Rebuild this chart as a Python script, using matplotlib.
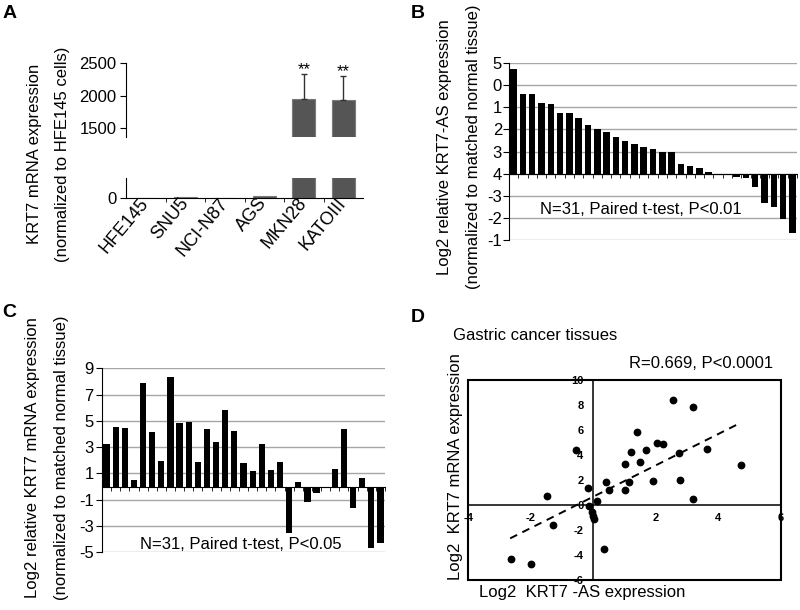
import numpy as np
import matplotlib
matplotlib.use('Agg')
import matplotlib.pyplot as plt
from matplotlib.patches import Rectangle
import matplotlib.transforms as mtransforms

plt.rcParams['font.family'] = ['Liberation Sans', 'DejaVu Sans']
plt.rcParams['axes.unicode_minus'] = False

# ---------------- data ----------------
# Panel A
cell_lines = ['HFE145', 'SNU5', 'NCI-N87', 'AGS', 'MKN28', 'KATOIII']
krt7_mrna = [1, 5, 3, 20, 1950, 1935]
krt7_err = [0, 0, 0, 0, 385, 365]
signif = ['', '', '', '', '**', '**']
a_upper_ticks = [1500, 2000, 2500]
a_lower_ticks = [0]

# Panel B
krt7as_log2 = [4.73, 3.62, 3.59, 3.17, 3.16, 2.74, 2.74, 2.53, 2.18, 2.01,
               1.88, 1.64, 1.48, 1.36, 1.19, 1.10, 0.97, 0.97, 0.45, 0.36,
               0.27, 0.08, -0.02, -0.06, -0.15, -0.20, -0.61, -1.32, -1.53,
               -2.04, -2.70]
b_ticks = [-3, -2, -1, 0, 1, 2, 3, 4, 5]
b_tick_labels = ['-1', '-2', '-3', '4', '3', '2', '1', '0', '5']

# Panel C
krt7_log2 = [3.22, 4.56, 4.46, 0.50, 7.86, 4.16, 1.97, 8.37, 4.87, 4.92,
             1.90, 4.36, 3.40, 5.83, 4.20, 1.82, 1.19, 3.27, 1.24, 1.85,
             -3.50, 0.33, -1.17, -0.49, 0.0, 1.35, 4.37, -1.60, 0.68,
             -4.68, -4.30]
c_ticks = [-5, -3, -1, 1, 3, 5, 7, 9]

# Panel D
scatter_x = [-2.64, -1.98, -1.48, -1.28, -0.56, -0.17, -0.14, -0.04, 0.00, 0.02,
             0.11, 0.33, 0.40, 0.51, 1.00, 1.03, 1.14, 1.20, 1.41, 1.51,
             1.68, 1.91, 2.03, 2.22, 2.54, 2.76, 2.78, 3.18, 3.20, 3.64, 4.74]
scatter_y = [-4.30, -4.70, 0.71, -1.62, 4.40, 1.38, -0.06, -0.54, -0.88, -1.14,
             0.30, -3.52, 1.87, 1.24, 3.27, 1.20, 1.88, 4.21, 5.87, 3.41,
             4.37, 1.89, 4.96, 4.88, 8.40, 4.19, 2.00, 7.87, 0.51, 4.51, 3.20]
trend_x = [-2.66, 4.68]
trend_y = [-2.67, 6.53]
d_xticks = [-4, -2, 2, 4, 6]
d_yticks = [-6, -4, -2, 0, 2, 4, 6, 8, 10]

# ---------------- layout helpers ----------------
W, H = 800, 610
fig = plt.figure(figsize=(W / 100, H / 100), dpi=100)


def rect(left, top, right, bottom):
    return [left / W, 1 - bottom / H, (right - left) / W, (bottom - top) / H]


def ftext(x, y, s, **kw):
    fig.text(x / W, 1 - y / H, s, **kw)


FS = 12
GRID = '#a6a6a6'

# ---------------- Panel A ----------------
xa = np.arange(len(cell_lines))
axU = fig.add_axes(rect(126, 63.3, 363, 137.3))
axL = fig.add_axes(rect(126, 177.7, 363, 197.7))
for ax in (axU, axL):
    ax.bar(xa, krt7_mrna, width=0.58, color='#555555', edgecolor='#7a7a7a', lw=0.8)
    ax.set_xlim(-0.5, len(cell_lines) - 0.5)
    ax.spines['top'].set_visible(False)
    ax.spines['right'].set_visible(False)
    ax.tick_params(axis='y', labelsize=FS, length=4, pad=3, direction='out')
axU.set_ylim(1362, 2500)
axU.set_yticks(a_upper_ticks)
axU.spines['bottom'].set_visible(False)
axU.set_xticks([])
err_idx = [i for i, e in enumerate(krt7_err) if e > 0]
axU.errorbar([xa[i] for i in err_idx], [krt7_mrna[i] for i in err_idx],
             yerr=[[0] * len(err_idx), [krt7_err[i] for i in err_idx]],
             fmt='none', ecolor='#333333', elinewidth=1, capsize=2, capthick=1)
for i, s in enumerate(signif):
    if s:
        axU.annotate(s, xy=(xa[i], krt7_mrna[i] + krt7_err[i]), xytext=(0, -2),
                     textcoords='offset points', ha='center', va='bottom', fontsize=FS,
                     annotation_clip=False)
axL.set_ylim(0, 300)
axL.set_yticks(a_lower_ticks)
axL.set_xticks(xa)
axL.set_xticklabels(cell_lines, rotation=50, ha='right', va='center',
                    rotation_mode='anchor', fontsize=13)
off = mtransforms.ScaledTranslation(2 / 100, -8 / 100, fig.dpi_scale_trans)
for lab in axL.get_xticklabels():
    lab.set_transform(lab.get_transform() + off)
axL.tick_params(axis='x', which='major', length=0, pad=2)
axL.set_xticks(xa[:-1] + 0.5, minor=True)
axL.tick_params(axis='x', which='minor', length=3, direction='out')

ftext(35, 154, 'KRT7 mRNA expression', rotation=90, ha='center', va='center', fontsize=FS)
ftext(63, 154, '(normalized to HFE145 cells)', rotation=90, ha='center', va='center', fontsize=FS)

# ---------------- Panel B ----------------
axB = fig.add_axes(rect(509, 63, 797, 240))
xb = np.arange(len(krt7as_log2))
axB.bar(xb, krt7as_log2, width=0.7, color='black', zorder=3)
axB.set_xlim(-0.5, len(krt7as_log2) - 0.5)
axB.set_ylim(-3, 5)
axB.set_yticks(b_ticks)
axB.set_yticklabels(b_tick_labels)
axB.yaxis.grid(True, color=GRID, lw=1)
axB.set_axisbelow(True)
for s in ('top', 'right'):
    axB.spines[s].set_visible(False)
axB.spines['bottom'].set_position(('data', 0))
axB.spines['bottom'].set_zorder(4)
axB.set_xticks([])
axB.set_xticks(np.arange(len(krt7as_log2) + 1) - 0.5, minor=True)
axB.tick_params(axis='x', which='minor', length=3, direction='out')
axB.tick_params(axis='y', labelsize=FS, length=4, pad=1)
axB.text(0.458, 0.175, 'N=31, Paired t-test, P<0.01', transform=axB.transAxes,
         ha='center', va='center', fontsize=FS, zorder=5)
ftext(444, 147, 'Log2 relative KRT7-AS expression', rotation=90, ha='center', va='center', fontsize=FS)
ftext(473, 147, '(normalized to matched normal tissue)', rotation=90, ha='center', va='center', fontsize=FS)

# ---------------- Panel C ----------------
axC = fig.add_axes(rect(102, 368.3, 385, 552.3))
xc = np.arange(len(krt7_log2))
axC.bar(xc, krt7_log2, width=0.68, color='black', zorder=3)
axC.set_xlim(-0.5, len(krt7_log2) - 0.5)
axC.set_ylim(-5, 9)
axC.set_yticks(c_ticks)
axC.yaxis.grid(True, color=GRID, lw=1)
axC.set_axisbelow(True)
for s in ('top', 'right'):
    axC.spines[s].set_visible(False)
axC.spines['bottom'].set_position(('data', 0))
axC.spines['bottom'].set_zorder(4)
axC.set_xticks([])
axC.set_xticks(np.arange(len(krt7_log2) + 1) - 0.5, minor=True)
axC.tick_params(axis='x', which='minor', length=3, direction='out')
axC.tick_params(axis='y', labelsize=FS, length=4, pad=2)
axC.text(0.491, 0.04, 'N=31, Paired t-test, P<0.05', transform=axC.transAxes,
         ha='center', va='center', fontsize=FS, zorder=5)
ftext(33, 458, 'Log2 relative KRT7 mRNA expression', rotation=90, ha='center', va='center', fontsize=FS)
ftext(62, 458, '(normalized to matched normal tissue)', rotation=90, ha='center', va='center', fontsize=FS)

# ---------------- Panel D ----------------
axD = fig.add_axes(rect(468.3, 380, 780.7, 580))
axD.plot(scatter_x, scatter_y, 'o', color='black', ms=4.6, zorder=3)
axD.plot(trend_x, trend_y, '--', color='black', lw=1.4, dashes=(4, 3), zorder=2)
axD.set_xlim(-4, 6)
axD.set_ylim(-6, 10)
axD.spines['left'].set_position(('data', 0))
axD.spines['bottom'].set_position(('data', 0))
axD.spines['top'].set_visible(False)
axD.spines['right'].set_visible(False)
for s in ('left', 'bottom'):
    axD.spines[s].set_linewidth(1.1)
axD.add_patch(Rectangle((0, 0), 1, 1, transform=axD.transAxes, fill=False,
                        lw=1.5, edgecolor='black', clip_on=False, zorder=5))
axD.set_xticks(d_xticks)
axD.set_yticks(d_yticks)
axD.tick_params(length=0)
axD.tick_params(axis='x', pad=6)
axD.tick_params(axis='y', pad=7)
for lab in axD.get_xticklabels() + axD.get_yticklabels():
    lab.set_fontsize(8)
    lab.set_fontweight('bold')
ftext(453, 336, 'Gastric cancer tissues', ha='left', va='center', fontsize=FS)
ftext(773, 363, 'R=0.669, P<0.0001', ha='right', va='center', fontsize=FS)
ftext(456, 467, 'Log2  KRT7 mRNA expression', rotation=90, ha='center', va='center', fontsize=FS)
ftext(582, 592, 'Log2  KRT7 -AS expression', ha='center', va='center', fontsize=FS)

# ---------------- panel letters ----------------
for s, (x, y) in zip('ABCD', [(10, 13), (418, 13), (9, 313), (418, 318)]):
    ftext(x, y, s, ha='center', va='center', fontsize=14, fontweight='bold')

fig.savefig('out.png', dpi=100)
